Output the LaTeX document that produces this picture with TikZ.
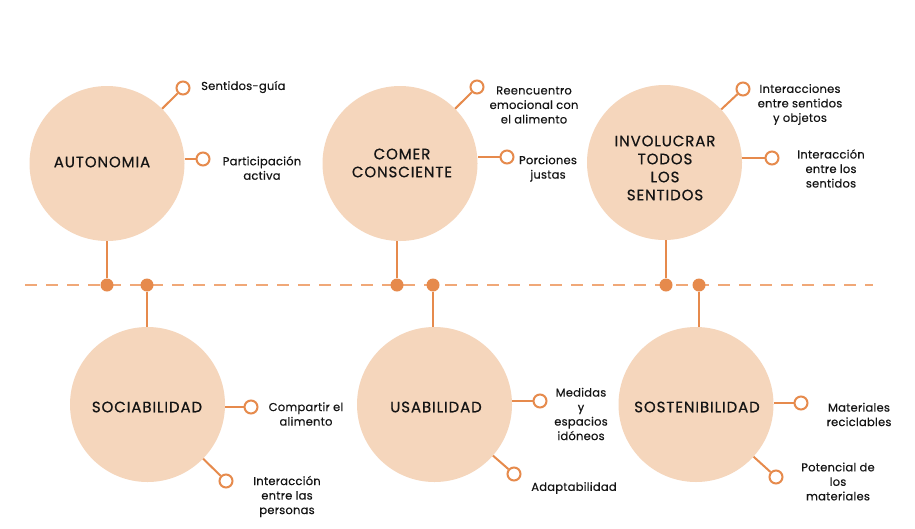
\documentclass[tikz,border=0pt]{standalone}
\usepackage{fontspec}
\setmainfont{Poppins}
\newfontfamily\titlefont{Poppins}[LetterSpace=6,FakeBold=0.6]
\newfontfamily\lblfont{Poppins}[LetterSpace=2,FakeBold=0.35]
\definecolor{peach}{HTML}{F5D6BC}
\definecolor{orng}{HTML}{E68A4C}
\definecolor{dashc}{HTML}{F0A878}
\definecolor{txt}{HTML}{141414}
\begin{document}
\begin{tikzpicture}[x=1pt,y=-1pt,
  bigc/.style={circle,fill=peach,minimum size=155pt,inner sep=0pt},
  title/.style={font=\titlefont\fontsize{15}{18}\selectfont,align=center,text=txt,inner sep=0pt},
  subc/.style={circle,draw=orng,line width=2pt,fill=white,minimum size=13pt,inner sep=0pt},
  dotc/.style={circle,fill=orng,minimum size=13pt,inner sep=0pt},
  lbl/.style={font=\lblfont\fontsize{11.5}{14.5}\selectfont,align=center,text=txt,inner sep=0pt},
  conn/.style={draw=orng,line width=2pt},
  dashline/.style={draw=dashc,line width=2pt,dash pattern=on 12pt off 9pt}]
\useasboundingbox[fill=white] (0,0) rectangle (915,528);

% big circles
\node[bigc] (A) at (107,163.5) {};
\node[bigc] (C) at (400,163.5) {};
\node[bigc] (E) at (664.5,162.5) {};
\node[bigc] (B) at (147.5,404.5) {};
\node[bigc] (D) at (434.5,404.5) {};
\node[bigc] (F) at (696,404.5) {};

\node[title] (At) at (102,162) {AUTONOMIA};
\node[title] (Ct) at (402,163) {COMER\\CONSCIENTE};
\node[title] (Et) at (665,168) {INVOLUCRAR\\TODOS\\LOS\\SENTIDOS};
\node[title] (Bt) at (147,407) {SOCIABILIDAD};
\node[title] (Dt) at (436,407) {USABILIDAD};
\node[title] (Ft) at (697,407) {SOSTENIBILIDAD};

% dashed line
\coordinate (L) at (25,285);
\coordinate (R) at (873,285);
\draw[dashline] (L) -- (R);

% dots
\node[dotc] (d1) at (107,285) {};
\node[dotc] (d2) at (147,285) {};
\node[dotc] (d3) at (397,285) {};
\node[dotc] (d4) at (433,285) {};
\node[dotc] (d5) at (666,285) {};
\node[dotc] (d6) at (699,285) {};

\draw[conn] (d1) -- (d1 |- A.south);
\draw[conn] (d2) -- (d2 |- B.north);
\draw[conn] (d3) -- (d3 |- C.south);
\draw[conn] (d4) -- (d4 |- D.north);
\draw[conn] (d5) -- (d5 |- E.south);
\draw[conn] (d6) -- (d6 |- F.north);

% sub circles
\node[subc] (s1) at (183,88) {};
\node[subc] (s2) at (203,159) {};
\node[subc] (s3) at (477,87) {};
\node[subc] (s4) at (507,157) {};
\node[subc] (s5) at (743,89) {};
\node[subc] (s6) at (772,158) {};
\node[subc] (s7) at (251,407) {};
\node[subc] (s8) at (226,481) {};
\node[subc] (s9) at (540,401) {};
\node[subc] (s10) at (514,474) {};
\node[subc] (s11) at (801,403) {};
\node[subc] (s12) at (776,477) {};

\draw[conn] (A) -- (s1);
\draw[conn] (s2) -- (s2 -| A.east);
\draw[conn] (C) -- (s3);
\draw[conn] (s4) -- (s4 -| C.east);
\draw[conn] (E) -- (s5);
\draw[conn] (s6) -- (s6 -| E.east);
\draw[conn] (s7) -- (s7 -| B.east);
\draw[conn] (B) -- (s8);
\draw[conn] (s9) -- (s9 -| D.east);
\draw[conn] (D) -- (s10);
\draw[conn] (s11) -- (s11 -| F.east);
\draw[conn] (F) -- (s12);

% labels
\node[lbl,anchor=west] (l1) at (201,87) {Sentidos-guía};
\node[lbl] (l2) at (262,168) {Participación\\activa};
\node[lbl] (l3) at (534,105) {Reencuentro\\emocional con\\el alimento};
\node[lbl] (l4) at (548,168.5) {Porciones\\justas};
\node[lbl] (l5) at (800,104.5) {Interacciones\\entre sentidos\\y objetos};
\node[lbl] (l6) at (831,168.5) {Interacción\\entre los\\sentidos};
\node[lbl] (l7) at (306,414) {Compartir el\\alimento};
\node[lbl] (l8) at (287,496.5) {Interacción\\entre las\\personas};
\node[lbl] (l9) at (581,414) {Medidas\\y\\espacios\\idóneos};
\node[lbl] (l10) at (574,488) {Adaptabilidad};
\node[lbl] (l11) at (859,414.5) {Materiales\\reciclables};
\node[lbl] (l12) at (838,481.5) {Potencial de\\los\\materiales};
\end{tikzpicture}
\end{document}
